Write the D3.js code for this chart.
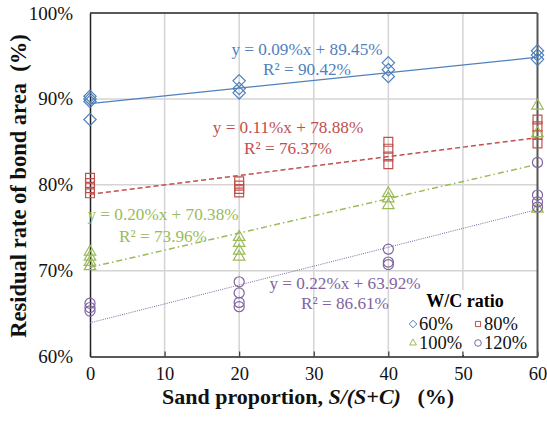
<!DOCTYPE html>
<html>
<head>
<meta charset="utf-8">
<script src="https://cdn.jsdelivr.net/npm/d3@7"></script>
<style>
  body { margin: 0; background: #fff; }
  text { font-family: "Liberation Serif", "Times New Roman", serif; }
</style>
</head>
<body>
<div id="container"></div>
<script>
/* CONSTANTS AND GLOBALS */
const width = 547, height = 423,
  margin = {top: 13, bottom: 66.5, left: 90, right: 9.5};

/* DATA */
const sandLevels = [0, 20, 40, 60];
const xTicks = [0, 10, 20, 30, 40, 50, 60];
const yTicks = [60, 70, 80, 90, 100];

// measured rates (%) at each sand level, one inner array per level
const wc60  = [[90.3, 90.0, 89.7, 87.6], [92.1, 91.2, 90.7], [94.2, 93.4, 92.6], [95.6, 95.1, 94.6]];
const wc80  = [[80.8, 80.2, 79.6, 79.0], [80.4, 79.9, 79.5, 79.1], [85.0, 84.2, 83.3, 82.4], [87.6, 86.8, 85.8, 84.8]];
const wc100 = [[72.2, 71.6, 71.0, 70.5], [73.9, 73.2, 72.3, 71.6], [79.0, 78.4, 77.6], [89.2, 86.0, 77.2]];
const wc120 = [[66.2, 65.7, 65.3], [68.7, 67.4, 66.3, 65.8], [72.5, 71.0, 70.7], [82.6, 78.8, 78.0, 77.4]];

// fitted trend lines: slope, intercept (both in %)
const slopes = [0.09, 0.11, 0.20, 0.22];
const intercepts = [89.45, 78.88, 70.38, 63.92];
const r2 = ["90.42%", "76.37%", "73.96%", "86.61%"];
const seriesNames = ["60%", "80%", "100%", "120%"];
const colors = ["#4f81bd", "#c0504d", "#9bbb59", "#8064a2"];

const seriesData = [wc60, wc80, wc100, wc120];

/* SCALES */
const xScale = d3.scaleLinear().domain([0, 60]).range([margin.left, width - margin.right]);
const yScale = d3.scaleLinear().domain([60, 100]).range([height - margin.bottom, margin.top]);

const svg = d3.select("#container").append("svg")
  .attr("width", width).attr("height", height);

/* GRID */
const grid = svg.append("g").attr("stroke", "#d4d4d4").attr("stroke-width", 1.5);
grid.selectAll(".vg").data(xTicks.slice(1, -1)).join("line")
  .attr("x1", d => xScale(d)).attr("x2", d => xScale(d))
  .attr("y1", yScale(100)).attr("y2", yScale(60));
grid.selectAll(".hg").data(yTicks.slice(1, -1)).join("line")
  .attr("y1", d => yScale(d)).attr("y2", d => yScale(d))
  .attr("x1", xScale(0)).attr("x2", xScale(60));

/* AXES */
const xAxis = d3.axisBottom(xScale).tickValues(xTicks).tickSizeInner(-5).tickSizeOuter(0).tickPadding(10);
const yAxis = d3.axisLeft(yScale).tickValues(yTicks).tickSize(0).tickPadding(17)
  .tickFormat(d => d + "%");

const xAxisGroup = svg.append("g")
  .attr("transform", `translate(0,${yScale(60)})`)
  .call(xAxis);
xAxisGroup.select(".domain").attr("stroke", "#222").attr("stroke-width", 1.5);
xAxisGroup.selectAll(".tick line").attr("stroke", "#333").attr("stroke-width", 1.2);
xAxisGroup.selectAll("text").attr("font-size", 18.5).attr("fill", "#111")
  .attr("font-family", "Liberation Serif");

const yAxisGroup = svg.append("g")
  .attr("transform", `translate(${xScale(0)},0)`)
  .call(yAxis);
yAxisGroup.select(".domain").attr("stroke", "#222").attr("stroke-width", 1.5);
yAxisGroup.selectAll("text").attr("font-size", 19).attr("fill", "#111")
  .attr("font-family", "Liberation Serif");

// top and right frame
svg.append("line").attr("x1", xScale(0)).attr("x2", xScale(60))
  .attr("y1", yScale(100)).attr("y2", yScale(100)).attr("stroke", "#222").attr("stroke-width", 1.5);
svg.append("line").attr("x1", xScale(60)).attr("x2", xScale(60))
  .attr("y1", yScale(100)).attr("y2", yScale(60)).attr("stroke", "#555").attr("stroke-width", 2);

/* TREND LINES */
const dashes = [null, "5,3", "6,3,1.5,3", "1,1.2"];
const lineWidths = [1.3, 1.5, 1.5, 1];
slopes.forEach((m, i) => {
  svg.append("line")
    .attr("x1", xScale(0)).attr("y1", yScale(intercepts[i]))
    .attr("x2", xScale(60)).attr("y2", yScale(intercepts[i] + m * 60))
    .attr("stroke", colors[i])
    .attr("stroke-width", lineWidths[i])
    .attr("stroke-dasharray", dashes[i]);
});

/* MARKERS */
const symbolTypes = [d3.symbolDiamond2, d3.symbolSquare2, d3.symbolTriangle2, d3.symbolCircle];
const symbolSizes = [90, 100, 95, 80];

function markerPath(i, size) {
  if (i === 0) {
    // wider diamond
    const s = Math.sqrt(size) * 0.65;
    return `M0,${-s}L${s},0L0,${s}L${-s},0Z`;
  }
  return d3.symbol(symbolTypes[i], size)();
}

seriesData.forEach((series, i) => {
  const pts = [];
  series.forEach((vals, j) => vals.forEach(v => pts.push({x: sandLevels[j], y: v})));
  svg.append("g").selectAll("path").data(pts).join("path")
    .attr("d", markerPath(i, symbolSizes[i]))
    .attr("transform", d => `translate(${xScale(d.x)},${yScale(d.y)})`)
    .attr("fill", "none")
    .attr("stroke", colors[i])
    .attr("stroke-width", 1.2);
});

/* EQUATION LABELS */
const labelPos = [
  {cx: 307, y1: 55, y2: 75},
  {cx: 288, y1: 133, y2: 154},
  {cx: 163, y1: 220, y2: 242},
  {cx: 345, y1: 289, y2: 309}
];
slopes.forEach((m, i) => {
  const g = svg.append("g").attr("fill", colors[i]).attr("font-size", 17.2).attr("text-anchor", "middle");
  g.append("text").attr("x", labelPos[i].cx).attr("y", labelPos[i].y1)
    .text(`y = ${m.toFixed(2)}%x + ${intercepts[i].toFixed(2)}%`);
  g.append("text").attr("x", labelPos[i].cx).attr("y", labelPos[i].y2)
    .text(`R² = ${r2[i]}`);
});

/* LEGEND */
const legend = svg.append("g");
legend.append("rect").attr("x", 404).attr("y", 290).attr("width", 132).attr("height", 65)
  .attr("fill", "#fff");
legend.append("text").attr("x", 465).attr("y", 307).attr("text-anchor", "middle")
  .attr("font-size", 18).attr("font-weight", "bold").text("W/C ratio");
const legPos = [[413, 324], [478, 324], [413, 343], [478, 343]];
seriesNames.forEach((name, i) => {
  legend.append("path")
    .attr("d", markerPath(i, 34))
    .attr("transform", `translate(${legPos[i][0]},${legPos[i][1]})`)
    .attr("fill", "none").attr("stroke", colors[i]).attr("stroke-width", 1);
  legend.append("text").attr("x", legPos[i][0] + 6).attr("y", legPos[i][1] + 6)
    .attr("font-size", 18.5).attr("fill", "#111").text(name);
});
// tick at 50 drawn over legend
svg.append("line").attr("x1", xScale(50)).attr("x2", xScale(50))
  .attr("y1", yScale(60)).attr("y2", yScale(60) - 5).attr("stroke", "#333").attr("stroke-width", 1.2);

/* AXIS TITLES */
const xTitle = svg.append("text").attr("x", 308).attr("y", 404).attr("text-anchor", "middle")
  .attr("font-size", 22).attr("font-weight", "bold").attr("fill", "#111");
xTitle.append("tspan").text("Sand proportion, ");
xTitle.append("tspan").attr("font-style", "italic").text("S/(S+C)");
xTitle.append("tspan").text("\u00a0\u00a0\u00a0(%)");

svg.append("text")
  .attr("transform", `translate(26,186) rotate(-90)`)
  .attr("text-anchor", "middle")
  .attr("font-size", 22.5).attr("font-weight", "bold").attr("fill", "#111")
  .text("Residual rate of bond area\u00a0\u00a0(%)");
</script>
</body>
</html>
